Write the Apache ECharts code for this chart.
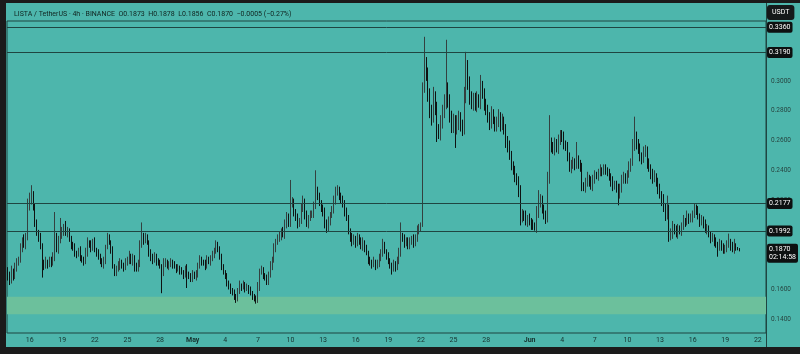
<!DOCTYPE html>
<html>
<head>
<meta charset="utf-8">
<script src="https://cdn.jsdelivr.net/npm/echarts@6/dist/echarts.min.js"></script>
<style>
  html, body { margin: 0; padding: 0; background: #1b1b1b; }
  #chart { position: absolute; left: 6px; top: 3px; width: 794px; height: 344px; background: #4db6ac; }
</style>
</head>
<body>
<div id="chart"></div>
<script>
// 4h candles, prices in 1e-4 USDT, one row per day (Apr 14 .. Jun 20)
var firstOpen = 1720;
var closes = [
    1700, 1660, 1720, 1690, 1750, 1790,  // Apr 14
    1800, 1880, 1930, 1900, 1950, 2150,
    2200, 2240, 2150, 2050, 1980, 1950,
    1900, 1780, 1760, 1790, 1770, 1800,
    1780, 1820, 1960, 1870, 1930, 1960,
    1990, 2020, 1980, 2000, 1940, 1900,  // Apr 19
    1880, 1850, 1830, 1860, 1820, 1800,
    1790, 1850, 1910, 1900, 1880, 1920,
    1870, 1850, 1820, 1800, 1770, 1790,
    1880, 1950, 1920, 1870, 1760, 1720,
    1740, 1760, 1790, 1760, 1750, 1780,  // Apr 24
    1800, 1830, 1790, 1820, 1760, 1740,
    1780, 1900, 1960, 1930, 1950, 1920,
    1850, 1810, 1800, 1830, 1790, 1780,
    1760, 1710, 1780, 1790, 1760, 1770,
    1790, 1770, 1760, 1740, 1750, 1730,  // Apr 29
    1720, 1700, 1740, 1710, 1690, 1680,
    1710, 1690, 1700, 1760, 1800, 1790,  // May 1
    1780, 1760, 1800, 1790, 1810, 1830,
    1860, 1900, 1880, 1820, 1760, 1720,
    1690, 1650, 1620, 1600, 1580, 1560,  // May 4
    1540, 1590, 1630, 1620, 1640, 1610,
    1620, 1600, 1580, 1560, 1540, 1530,
    1620, 1720, 1730, 1700, 1680, 1660,
    1700, 1760, 1800, 1880, 1920, 1940,
    1960, 1990, 1970, 2030, 2090, 2050,  // May 9
    2170, 2190, 2120, 2080, 2040, 2060,
    2150, 2190, 2100, 2040, 2080, 2100,
    2110, 2160, 2260, 2230, 2180, 2150,
    2120, 2050, 2010, 2060, 2100, 2130,
    2200, 2250, 2270, 2230, 2200, 2180,  // May 14
    2120, 2080, 2000, 1960, 1920, 1940,
    1910, 1950, 1930, 1890, 1920, 1880,
    1850, 1800, 1780, 1770, 1790, 1760,
    1780, 1810, 1850, 1900, 1860, 1830,
    1800, 1760, 1740, 1770, 1750, 1790,  // May 19
    1850, 1960, 1940, 1910, 1930, 1900,
    1920, 1940, 1910, 1950, 1990, 2010,
    2030, 2960, 3100, 3050, 2900, 2800,  // May 22
    2760, 2900, 2820, 2680, 2650, 2720,
    2800, 2850, 2950, 2880, 2760, 2700,  // May 24
    2740, 2680, 2720, 2760, 2700, 2680,
    2900, 3100, 2980, 2900, 2850, 2880,
    2840, 2880, 2860, 2960, 2920, 2850,
    2800, 2760, 2720, 2780, 2740, 2700,
    2720, 2760, 2700, 2740, 2680, 2600,  // May 29
    2560, 2500, 2440, 2400, 2360, 2330,
    2260, 2080, 2110, 2100, 2060, 2080,
    2060, 2040, 2030, 2010, 2120, 2180,  // Jun 1
    2200, 2150, 2100, 2080, 2350, 2580,
    2560, 2540, 2580, 2550, 2600, 2640,
    2620, 2580, 2560, 2500, 2420, 2440,  // Jun 4
    2460, 2440, 2470, 2450, 2420, 2300,
    2290, 2320, 2350, 2330, 2300, 2340,
    2370, 2360, 2380, 2400, 2390, 2410,
    2400, 2380, 2360, 2330, 2290, 2310,
    2280, 2230, 2280, 2330, 2360, 2340,  // Jun 9
    2370, 2420, 2450, 2560, 2620, 2580,
    2540, 2500, 2470, 2520, 2540, 2450,
    2420, 2380, 2340, 2360, 2320, 2280,
    2240, 2200, 2150, 2100, 2140, 1960,
    1980, 2020, 2000, 1970, 2010, 1990,  // Jun 14
    2020, 2060, 2050, 2090, 2070, 2080,
    2100, 2150, 2130, 2090, 2050, 2070,
    2040, 2000, 2010, 1970, 1940, 1950,
    1920, 1900, 1880, 1910, 1890, 1860,
    1880, 1900, 1920, 1890, 1870, 1900,  // Jun 19
    1880, 1873, 1870
];
// upper wick above the body, same units
var wickUp = [
    30, 20, 40, 20, 30, 20,
    20, 30, 20, 40, 30, 60,
    50, 60, 20, 30, 20, 20,
    30, 10, 20, 30, 10, 20,
    20, 30, 160, 20, 30, 120,
    30, 20, 40, 20, 10, 20,
    20, 30, 10, 20, 30, 10,
    20, 30, 40, 20, 30, 20,
    30, 10, 20, 20, 10, 30,
    20, 30, 20, 10, 20, 10,
    20, 30, 20, 10, 20, 30,
    20, 30, 10, 20, 10, 20,
    20, 30, 90, 20, 30, 20,
    10, 20, 30, 20, 10, 20,
    20, 10, 30, 20, 10, 20,
    20, 10, 20, 10, 20, 10,
    20, 10, 20, 30, 10, 20,
    20, 10, 30, 20, 30, 20,
    10, 20, 30, 20, 20, 30,
    20, 30, 20, 10, 20, 10,
    10, 20, 10, 20, 10, 20,
    10, 20, 30, 10, 20, 10,
    20, 10, 20, 10, 10, 20,
    30, 20, 30, 20, 10, 20,
    20, 30, 20, 30, 20, 30,
    30, 20, 30, 40, 30, 20,
    165, 30, 20, 20, 30, 20,
    30, 40, 20, 30, 20, 30,
    20, 30, 140, 30, 20, 20,
    20, 30, 20, 30, 20, 30,
    30, 40, 30, 20, 20, 30,
    20, 30, 20, 10, 20, 30,
    20, 30, 20, 20, 30, 10,
    20, 10, 20, 20, 30, 10,
    20, 30, 20, 40, 20, 10,
    20, 10, 20, 30, 20, 30,
    30, 90, 20, 30, 20, 20,
    30, 20, 30, 20, 40, 30,
    20, 30, 196, 60, 40, 50,
    40, 60, 30, 40, 30, 50,
    40, 60, 326, 40, 30, 40,
    40, 30, 50, 40, 30, 40,
    60, 95, 40, 50, 30, 40,
    40, 50, 30, 80, 40, 30,
    30, 40, 30, 50, 30, 20,
    40, 50, 30, 40, 20, 30,
    30, 40, 30, 20, 30, 20,
    30, 40, 30, 20, 30, 20,
    30, 20, 30, 20, 40, 87,
    40, 30, 20, 30, 40, 190,
    40, 30, 40, 30, 40, 30,
    30, 40, 20, 30, 20, 30,
    30, 20, 120, 30, 20, 30,
    20, 30, 40, 20, 30, 30,
    30, 20, 30, 40, 20, 30,
    30, 20, 30, 20, 30, 20,
    20, 30, 30, 40, 30, 20,
    30, 40, 30, 50, 140, 40,
    30, 40, 20, 40, 30, 20,
    30, 20, 30, 40, 20, 30,
    30, 20, 40, 30, 90, 30,
    30, 40, 20, 30, 30, 20,
    30, 40, 20, 40, 20, 30,
    30, 30, 20, 30, 20, 30,
    20, 30, 30, 20, 20, 30,
    20, 30, 20, 30, 20, 20,
    20, 30, 55, 20, 30, 40,
    10, 5, 5
];
// lower wick below the body
var wickDown = [
    40, 30, 20, 30, 20, 30,
    30, 20, 30, 20, 30, 20,
    20, 30, 20, 30, 20, 30,
    30, 100, 30, 20, 30, 20,
    30, 20, 30, 20, 30, 20,
    20, 30, 20, 30, 20, 30,
    20, 30, 20, 10, 30, 20,
    30, 20, 30, 20, 30, 20,
    20, 30, 20, 30, 20, 30,
    20, 10, 20, 30, 20, 30,
    30, 20, 30, 20, 30, 20,
    20, 30, 20, 30, 40, 20,
    20, 30, 20, 30, 20, 20,
    30, 20, 30, 20, 30, 20,
    20, 135, 20, 30, 20, 30,
    20, 30, 20, 30, 20, 30,
    20, 30, 20, 100, 20, 30,
    30, 20, 30, 20, 20, 30,
    20, 30, 20, 20, 30, 20,
    20, 20, 30, 20, 30, 20,
    20, 30, 20, 30, 20, 30,
    30, 20, 20, 30, 20, 30,
    20, 30, 20, 30, 20, 25,
    20, 30, 20, 30, 20, 30,
    30, 20, 30, 20, 30, 20,
    20, 30, 20, 30, 20, 30,
    30, 20, 30, 20, 30, 20,
    20, 30, 30, 20, 30, 20,
    20, 30, 20, 30, 20, 30,
    30, 40, 30, 20, 30, 20,
    20, 30, 20, 30, 20, 30,
    30, 20, 30, 40, 30, 20,
    30, 20, 30, 20, 30, 30,
    20, 30, 20, 30, 20, 30,
    20, 30, 20, 30, 20, 30,
    30, 20, 40, 20, 30, 20,
    20, 30, 20, 30, 20, 30,
    30, 20, 30, 20, 30, 20,
    20, 10, 40, 50, 40, 50,
    60, 40, 50, 90, 40, 50,
    40, 50, 40, 60, 40, 50,
    50, 130, 40, 50, 40, 50,
    40, 50, 40, 60, 40, 50,
    40, 50, 40, 50, 40, 50,
    30, 40, 50, 40, 30, 40,
    40, 30, 40, 30, 40, 50,
    40, 30, 40, 30, 40, 30,
    40, 50, 30, 40, 30, 40,
    30, 40, 30, 15, 30, 40,
    30, 40, 30, 40, 30, 40,
    40, 30, 40, 30, 40, 30,
    30, 40, 30, 40, 30, 40,
    30, 40, 30, 40, 30, 40,
    30, 40, 30, 40, 30, 40,
    30, 20, 30, 20, 30, 20,
    30, 20, 30, 40, 30, 20,
    30, 65, 20, 30, 20, 30,
    30, 20, 30, 20, 30, 40,
    30, 40, 30, 20, 30, 40,
    30, 40, 30, 20, 30, 40,
    30, 40, 30, 40, 30, 40,
    30, 40, 30, 20, 30, 20,
    30, 20, 30, 20, 30, 20,
    30, 20, 30, 20, 30, 20,
    30, 20, 30, 20, 30, 20,
    30, 20, 60, 20, 30, 20,
    20, 30, 20, 30, 20, 30,
    20, 10, 14
];

var levels = [0.3360, 0.3190, 0.2177, 0.1992];  // drawn horizontal lines
var zone = [0.1434, 0.1552];                     // green support zone
var lastPrice = 0.1870;
var countdown = '02:14:58';
var priceTicks = [0.14, 0.16, 0.18, 0.20, 0.22, 0.24, 0.26, 0.28, 0.30, 0.32];
var tickDates = ['04-16', '04-19', '04-22', '04-25', '04-28', '05-01', '05-04', '05-07',
    '05-10', '05-13', '05-16', '05-19', '05-22', '05-25', '05-28', '06-01', '06-04',
    '06-07', '06-10', '06-13', '06-16', '06-19', '06-22'];
var monthNames = {'05': 'May', '06': 'Jun'};
var numSlots = 419;  // candles plus the empty space on the right

// time categories, every 4 hours from Apr 14
var categories = [];
var start = Date.UTC(2025, 3, 14);
for (let i = 0; i < numSlots; i++) {
    var d = new Date(start + i * 4 * 3600 * 1000);
    var mm = ('0' + (d.getUTCMonth() + 1)).slice(-2);
    var dd = ('0' + d.getUTCDate()).slice(-2);
    var hh = ('0' + d.getUTCHours()).slice(-2);
    categories.push(mm + '-' + dd + ' ' + hh + ':00');
}

// [open, close, low, high]
var candles = closes.map(function (c, i) {
    var o = i === 0 ? firstOpen : closes[i - 1];
    var h = Math.max(o, c) + wickUp[i];
    var l = Math.min(o, c) - wickDown[i];
    return [o / 1e4, c / 1e4, l / 1e4, h / 1e4];
});

var lineColor = '#1f4541';
var boxLabel = {
    show: true,
    position: 'end',
    distance: 1,
    color: '#ffffff',
    backgroundColor: '#0d1111',
    borderRadius: 2,
    padding: [2, 2, 1, 2],
    fontSize: 7,
    fontFamily: 'Roboto',
    lineHeight: 8
};

var markLines = levels.map(function (v) {
    return {yAxis: v, label: {formatter: v.toFixed(4)}};
});
markLines.push({
    yAxis: lastPrice,
    lineStyle: {color: 'rgba(0,0,0,0)'},
    label: {formatter: lastPrice.toFixed(4) + '\n' + countdown, offset: [0, 4]}
});

var myChart = echarts.init(document.getElementById('chart'));
var option = {
    animation: false,
    title: {
        text: 'LISTA / TetherUS · 4h · BINANCE  O0.1873  H0.1878  L0.1856  C0.1870  −0.0005 (−0.27%)',
        left: 3,
        top: 3,
        textStyle: {fontSize: 7, fontWeight: 'normal', color: '#10231f', fontFamily: 'Roboto'}
    },
    grid: {
        left: 1, right: 34, top: 18, bottom: 14,
        outerBoundsMode: 'none',
        show: true, borderColor: lineColor, borderWidth: 1, backgroundColor: 'transparent'
    },
    xAxis: {
        type: 'category',
        data: categories,
        axisLine: {show: false},
        axisTick: {show: false},
        splitLine: {show: false},
        axisLabel: {
            interval: function (idx, val) {
                return val.slice(6) === '00:00' && tickDates.indexOf(val.slice(0, 5)) >= 0;
            },
            formatter: function (val) {
                var m = val.slice(0, 2), dd = val.slice(3, 5);
                if (dd === '01') return '{m|' + monthNames[m] + '}';
                return String(parseInt(dd, 10));
            },
            hideOverlap: false,
            margin: 4,
            fontSize: 7,
            color: '#16302d',
            fontFamily: 'Roboto',
            rich: {m: {fontSize: 7, fontWeight: 'bold', color: '#16302d', fontFamily: 'Roboto'}}
        }
    },
    yAxis: {
        type: 'value',
        position: 'right',
        min: 0.1308,
        max: 0.3402,
        axisLine: {show: false},
        axisTick: {show: false},
        splitLine: {show: false},
        axisLabel: {
            customValues: priceTicks,
            formatter: function (v) { return v.toFixed(4); },
            margin: 5,
            fontSize: 6.5,
            color: '#274541',
            fontFamily: 'Roboto'
        }
    },
    series: [
        {
            type: 'candlestick',
            data: candles,
            barWidth: 1,
            itemStyle: {
                color: '#cfd8d6',
                color0: '#0e1312',
                borderColor: '#34403f',
                borderColor0: '#0e1312',
                borderWidth: 1
            },
            markArea: {
                silent: true,
                precision: 4,
                itemStyle: {color: '#6cc09c'},
                data: [[{yAxis: zone[0]}, {yAxis: zone[1]}]]
            },
            markLine: {
                silent: true,
                precision: 4,
                symbol: ['none', 'none'],
                lineStyle: {color: lineColor, width: 1, type: 'solid'},
                label: boxLabel,
                data: markLines
            }
        }
    ],
    graphic: [
        {
            type: 'line',
            shape: {x1: 760.5, y1: 0, x2: 760.5, y2: 344},
            style: {stroke: lineColor, lineWidth: 1}
        },
        {
            type: 'text',
            left: 761,
            top: 2,
            style: {
                text: 'USDT', fill: '#ffffff', fontSize: 7, fontFamily: 'Roboto',
                backgroundColor: '#15191a', padding: [4, 5, 4, 5], borderRadius: 3
            }
        }
    ]
};

option && myChart.setOption(option);
window.addEventListener('resize', myChart.resize);
</script>
</body>
</html>
